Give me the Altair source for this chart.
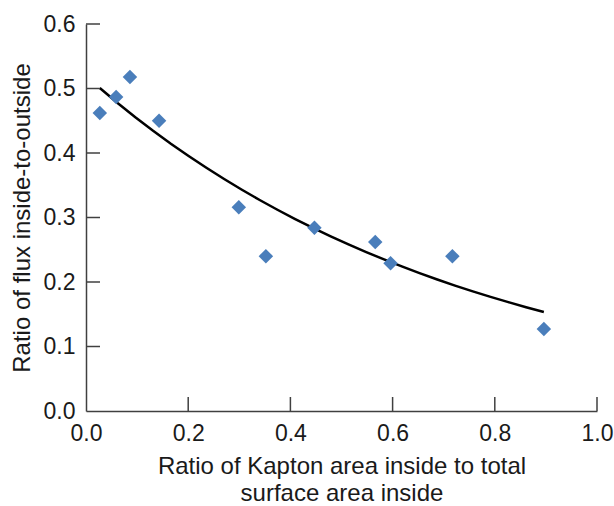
import altair as alt
import pandas as pd

# Data
kapton_ratio = [0.027, 0.059, 0.086, 0.143, 0.299, 0.352, 0.447, 0.566, 0.596, 0.717, 0.896]
flux_ratio = [0.462, 0.487, 0.518, 0.450, 0.316, 0.240, 0.284, 0.262, 0.229, 0.240, 0.127]

x_ticks = [0.2, 0.4, 0.6, 0.8, 1.0]
y_ticks = [0.1, 0.2, 0.3, 0.4, 0.5, 0.6]

df = pd.DataFrame({"x": kapton_ratio, "y": flux_ratio})
xt = pd.DataFrame({"x": x_ticks})
yt = pd.DataFrame({"y": y_ticks})

W, H = 511, 387
FONT = "Liberation Sans"
AXC = "#404040"
TXT = "#1a1a1a"

x_scale = alt.Scale(domain=[0, 1], nice=False, zero=False)
y_scale = alt.Scale(domain=[0, 0.6], nice=False, zero=False)

x_axis = alt.Axis(
    values=[0, 0.2, 0.4, 0.6, 0.8, 1.0], format=".1f", ticks=False, tickSize=0,
    grid=False, domainColor=AXC, domainWidth=1.5,
    labelFont=FONT, labelFontSize=23, labelColor=TXT, labelPadding=11,
    labelFlush=False, labelOverlap=False,
    title=["Ratio of Kapton area inside to total", "surface area inside"],
    titleFont=FONT, titleFontSize=24, titleFontWeight="normal", titleColor=TXT,
    titlePadding=9, titleLineHeight=27,
)
y_axis = alt.Axis(
    values=[0, 0.1, 0.2, 0.3, 0.4, 0.5, 0.6], format=".1f", ticks=False, tickSize=0,
    grid=False, domainColor=AXC, domainWidth=1.5,
    labelFont=FONT, labelFontSize=23, labelColor=TXT, labelPadding=11,
    labelFlush=False, labelOverlap=False,
    title="Ratio of flux inside-to-outside",
    titleFont=FONT, titleFontSize=24, titleFontWeight="normal", titleColor=TXT,
    titlePadding=9,
)

points = alt.Chart(df).mark_point(
    shape="diamond", filled=True, size=210, color="#4a7ebb", opacity=1
).encode(
    x=alt.X("x:Q", scale=x_scale, axis=x_axis),
    y=alt.Y("y:Q", scale=y_scale, axis=y_axis),
)

# exponential trendline fitted by Vega-Lite
trend = alt.Chart(df).transform_regression(
    "x", "y", method="exp"
).mark_line(color="black", strokeWidth=2.5).encode(
    x=alt.X("x:Q", scale=x_scale),
    y=alt.Y("y:Q", scale=y_scale),
)

xticks = alt.Chart(xt).mark_rule(color=AXC, strokeWidth=1.5).encode(
    x=alt.X("x:Q", scale=x_scale),
    y=alt.value(H),
    y2=alt.value(H - 14),
)
yticks = alt.Chart(yt).mark_rule(color=AXC, strokeWidth=1.5).encode(
    y=alt.Y("y:Q", scale=y_scale),
    x=alt.value(0),
    x2=alt.value(14),
)

chart = alt.layer(trend, points, xticks, yticks).properties(
    width=W, height=H,
    autosize=alt.AutoSizeParams(type="none"),
    padding={"left": 86, "top": 24, "right": 17, "bottom": 95},
    background="white",
).configure_view(stroke=None)

chart.save("out.html", embed_options={"renderer": "svg", "actions": False})
